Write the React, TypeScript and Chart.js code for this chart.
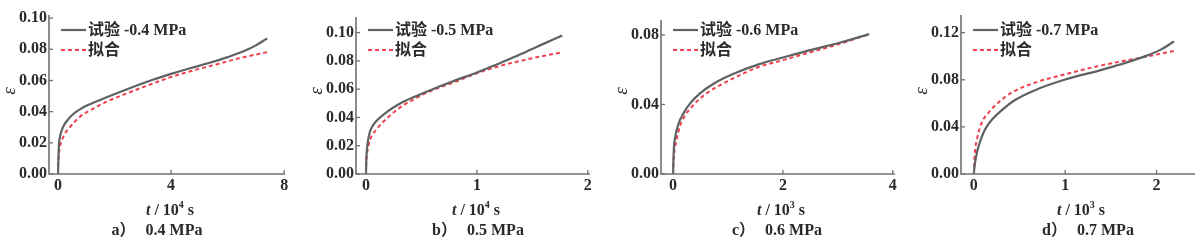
import React, { useEffect, useRef } from "react";
import { Chart, registerables } from "chart.js";

Chart.register(...registerables);

// ---------------- data ----------------
const panelLetters = ["a）", "b）", "c）", "d）"];
const pressureLabels = ["0.4 MPa", "0.5 MPa", "0.6 MPa", "0.7 MPa"];
const testLabels = ["试验 -0.4 MPa", "试验 -0.5 MPa", "试验 -0.6 MPa", "试验 -0.7 MPa"];
const fitLabel = "拟合";
const timeExponents = ["4", "4", "3", "3"];

const xTicksA = [0, 4, 8];
const xTicksB = [0, 1, 2];
const xTicksC = [0, 2, 4];
const xTicksD = [0, 1, 2];
const yTicksA = [0, 0.02, 0.04, 0.06, 0.08, 0.1];
const yTicksB = [0, 0.02, 0.04, 0.06, 0.08, 0.1];
const yTicksC = [0, 0.04, 0.08];
const yTicksD = [0, 0.04, 0.08, 0.12];

// a) 0.4 MPa, t in 10^4 s
const testA_t = [0, 0.01, 0.03, 0.07, 0.13, 0.2, 0.31, 0.54, 0.8, 1.13, 1.72, 2.43, 3.2, 4.0, 4.7, 5.4, 6.0, 6.6, 7.0, 7.4];
const testA_e = [0, 0.008, 0.018, 0.024, 0.028, 0.031, 0.034, 0.0385, 0.0418, 0.0448, 0.0493, 0.0543, 0.0595, 0.0642, 0.068, 0.0715, 0.075, 0.079, 0.0825, 0.087];
const fitA_t = [0, 0.005, 0.02, 0.07, 0.19, 0.42, 0.78, 1.25, 1.72, 2.43, 3.2, 4.0, 4.8, 5.6, 6.4, 7.4];
const fitA_e = [0, 0.006, 0.011, 0.0175, 0.024, 0.03, 0.0368, 0.042, 0.0464, 0.0517, 0.057, 0.0622, 0.0665, 0.0703, 0.0742, 0.0782];

// b) 0.5 MPa, t in 10^4 s
const testB_t = [0, 0.003, 0.008, 0.015, 0.036, 0.06, 0.1, 0.19, 0.3, 0.45, 0.64, 0.8, 1.0, 1.15, 1.3, 1.45, 1.6, 1.77];
const testB_e = [0, 0.01, 0.017, 0.022, 0.03, 0.034, 0.038, 0.044, 0.0495, 0.055, 0.0612, 0.066, 0.0718, 0.0765, 0.0815, 0.0866, 0.092, 0.098];
const fitB_t = [0, 0.003, 0.008, 0.015, 0.036, 0.1, 0.19, 0.3, 0.45, 0.64, 0.8, 1.0, 1.2, 1.45, 1.6, 1.77];
const fitB_e = [0, 0.008, 0.013, 0.017, 0.024, 0.032, 0.0395, 0.0466, 0.0537, 0.0605, 0.065, 0.0712, 0.0762, 0.081, 0.0835, 0.086];

// c) 0.6 MPa, t in 10^3 s
const testC_t = [0, 0.01, 0.04, 0.1, 0.19, 0.31, 0.49, 0.73, 1.09, 1.57, 2.0, 2.46, 3.06, 3.57];
const testC_e = [0, 0.0119, 0.0214, 0.029, 0.0349, 0.0406, 0.0464, 0.0518, 0.0575, 0.0632, 0.067, 0.071, 0.0758, 0.0805];
const fitC_t = [0, 0.01, 0.06, 0.13, 0.22, 0.37, 0.61, 0.97, 1.57, 2.0, 2.46, 3.06, 3.57];
const fitC_e = [0, 0.008, 0.019, 0.028, 0.0337, 0.0397, 0.0464, 0.053, 0.0617, 0.0655, 0.0697, 0.0751, 0.0805];

// d) 0.7 MPa, t in 10^3 s
const testD_t = [0, 0.01, 0.036, 0.073, 0.127, 0.2, 0.31, 0.45, 0.67, 1.0, 1.36, 1.55, 1.72, 1.9, 2.05, 2.19];
const testD_e = [0, 0.0076, 0.0188, 0.0286, 0.0384, 0.0462, 0.0545, 0.0628, 0.0712, 0.0802, 0.0876, 0.0918, 0.0958, 0.1007, 0.1058, 0.1125];
const fitD_t = [0, 0.01, 0.036, 0.09, 0.165, 0.27, 0.415, 0.67, 1.0, 1.36, 1.72, 2.0, 2.19];
const fitD_e = [0, 0.016, 0.03, 0.044, 0.0524, 0.0608, 0.0692, 0.0776, 0.0846, 0.0916, 0.0972, 0.1014, 0.1045];

// ---------------- styling / layout ----------------
const AXIS_COLOR = "#707070";
const TEXT_COLOR = "#2a2a2a";
const TEST_COLOR = "#5e6262";
const FIT_COLOR = "#f0404e";
const FONT_FAMILY = '"Liberation Serif", "Noto Sans CJK SC", serif';
const PAGE_H = 251;
const AXIS_BOTTOM = 174;

const panels = [
  { L: 0, W: 300, axisX: 49, right: 285, top: 15, xMin: -0.32, xMax: 8.03, yMax: 0.102, subX: 157,
    xTicks: xTicksA, yTicks: yTicksA, test: [testA_t, testA_e], fit: [fitA_t, fitA_e] },
  { L: 300, W: 305, axisX: 356, right: 590, top: 17, xMin: -0.09, xMax: 2.02, yMax: 0.111, subX: 478,
    xTicks: xTicksB, yTicks: yTicksB, test: [testB_t, testB_e], fit: [fitB_t, fitB_e] },
  { L: 605, W: 300, axisX: 661, right: 895, top: 20, xMin: -0.22, xMax: 4.04, yMax: 0.0886, subX: 777,
    xTicks: xTicksC, yTicks: yTicksC, test: [testC_t, testC_e], fit: [fitC_t, fitC_e] },
  { L: 905, W: 295, axisX: 961, right: 1195, top: 15, xMin: -0.14, xMax: 2.42, yMax: 0.135, subX: 1088,
    xTicks: xTicksD, yTicks: yTicksD, test: [testD_t, testD_e], fit: [fitD_t, fitD_e] },
];

const toPoints = (t: number[], e: number[]) => t.map((x, i) => ({ x, y: e[i] }));

const decorPlugin = {
  id: "panelDecor",
  afterDraw(chart: any, _args: any, opts: any) {
    const { ctx, chartArea: ca, scales } = chart;
    const xs = scales.x;
    const ys = scales.y;
    ctx.save();
    // axes lines
    ctx.strokeStyle = AXIS_COLOR;
    ctx.lineWidth = 1.6;
    ctx.beginPath();
    ctx.moveTo(ca.left, ca.top);
    ctx.lineTo(ca.left, ca.bottom);
    ctx.lineTo(ca.right, ca.bottom);
    ctx.stroke();
    // inward ticks
    ctx.lineWidth = 1.3;
    xs.ticks.forEach((tk: any) => {
      const px = xs.getPixelForValue(tk.value);
      ctx.beginPath();
      ctx.moveTo(px, ca.bottom);
      ctx.lineTo(px, ca.bottom - 4);
      ctx.stroke();
    });
    ys.ticks.forEach((tk: any) => {
      const py = ys.getPixelForValue(tk.value);
      ctx.beginPath();
      ctx.moveTo(ca.left, py);
      ctx.lineTo(ca.left + 4, py);
      ctx.stroke();
    });

    // legend
    const lx = ca.left + 12;
    const rows = [30, 50];
    chart.data.datasets.forEach((ds: any, i: number) => {
      const y = rows[i];
      ctx.save();
      ctx.strokeStyle = ds.borderColor;
      ctx.lineWidth = ds.borderWidth;
      ctx.setLineDash(ds.borderDash || []);
      ctx.beginPath();
      ctx.moveTo(lx, y);
      ctx.lineTo(lx + 25, y);
      ctx.stroke();
      ctx.restore();
      ctx.fillStyle = TEXT_COLOR;
      ctx.font = `bold 16px ${FONT_FAMILY}`;
      ctx.textAlign = "left";
      ctx.textBaseline = "middle";
      ctx.fillText(ds.label, lx + 27, y + 1);
    });

    // x axis title: t / 10^n s
    const cx = (ca.left + ca.right) / 2 + 3;
    const ty = 211;
    const parts = [
      { s: "t", f: `italic bold 16px ${FONT_FAMILY}`, dy: 0 },
      { s: " / 10", f: `bold 16px ${FONT_FAMILY}`, dy: 0 },
      { s: opts.exponent, f: `bold 10px ${FONT_FAMILY}`, dy: -6 },
      { s: " s", f: `bold 16px ${FONT_FAMILY}`, dy: 0 },
    ];
    let total = 0;
    parts.forEach((p) => {
      ctx.font = p.f;
      total += ctx.measureText(p.s).width;
    });
    let x = cx - total / 2;
    ctx.fillStyle = TEXT_COLOR;
    ctx.textAlign = "left";
    ctx.textBaseline = "middle";
    parts.forEach((p) => {
      ctx.font = p.f;
      ctx.fillText(p.s, x, ty + p.dy);
      x += ctx.measureText(p.s).width;
    });

    // subtitle
    ctx.font = `bold 16px ${FONT_FAMILY}`;
    const w1 = ctx.measureText(opts.letter).width;
    const w2 = ctx.measureText(opts.pressure).width;
    const gap = 10;
    const sx = opts.subX - (w1 + gap + w2) / 2;
    ctx.fillText(opts.letter, sx, 231);
    ctx.fillText(opts.pressure, sx + w1 + gap, 231);

    // y axis title
    ctx.save();
    ctx.translate(ca.left - 39, 91);
    ctx.rotate(-Math.PI / 2);
    ctx.font = `italic 19px ${FONT_FAMILY}`;
    ctx.textAlign = "center";
    ctx.textBaseline = "middle";
    ctx.fillText("ε", 0, 0);
    ctx.restore();

    ctx.restore();
  },
};

function Panel({ idx }: { idx: number }) {
  const ref = useRef<HTMLCanvasElement>(null);
  const p = panels[idx];
  useEffect(() => {
    if (!ref.current) return;
    const chart = new Chart(ref.current, {
      type: "line",
      data: {
        datasets: [
          {
            label: testLabels[idx],
            data: toPoints(p.test[0], p.test[1]),
            borderColor: TEST_COLOR,
            borderWidth: 2.2,
            pointRadius: 0,
            cubicInterpolationMode: "monotone",
            fill: false,
          },
          {
            label: fitLabel,
            data: toPoints(p.fit[0], p.fit[1]),
            borderColor: FIT_COLOR,
            borderWidth: 2,
            borderDash: [4, 3],
            pointRadius: 0,
            cubicInterpolationMode: "monotone",
            fill: false,
          },
        ],
      },
      options: {
        animation: false,
        responsive: false,
        devicePixelRatio: 1,
        layout: {
          padding: {
            left: 0,
            right: p.L + p.W - p.right,
            top: p.top,
            bottom: PAGE_H - AXIS_BOTTOM - 20,
          },
        },
        plugins: {
          legend: { display: false },
          tooltip: { enabled: false },
          panelDecor: {
            exponent: timeExponents[idx],
            letter: panelLetters[idx],
            pressure: pressureLabels[idx],
            subX: p.subX - p.L,
          },
        } as any,
        scales: {
          x: {
            type: "linear",
            min: p.xMin,
            max: p.xMax,
            grid: { display: false, drawTicks: false, tickLength: 0 },
            border: { display: false },
            afterFit: (s: any) => {
              s.height = 20;
            },
            afterBuildTicks: (s: any) => {
              s.ticks = p.xTicks.map((v) => ({ value: v }));
            },
            ticks: {
              padding: 2,
              maxRotation: 0,
              autoSkip: false,
              color: TEXT_COLOR,
              font: { family: FONT_FAMILY, size: 16, weight: "bold" },
              callback: (v: any) => String(v),
            },
          },
          y: {
            type: "linear",
            min: 0,
            max: p.yMax,
            grid: { display: false, drawTicks: false, tickLength: 0 },
            border: { display: false },
            afterFit: (s: any) => {
              s.width = p.axisX - p.L;
            },
            afterBuildTicks: (s: any) => {
              s.ticks = p.yTicks.map((v) => ({ value: v }));
            },
            ticks: {
              padding: 2,
              autoSkip: false,
              color: TEXT_COLOR,
              font: { family: FONT_FAMILY, size: 16, weight: "bold" },
              callback: (v: any) => Number(v).toFixed(2),
            },
          },
        },
      } as any,
      plugins: [decorPlugin],
    });
    return () => chart.destroy();
  }, [idx]);
  return (
    <div style={{ position: "absolute", left: p.L, top: 0, width: p.W, height: PAGE_H }}>
      <canvas ref={ref} width={p.W} height={PAGE_H} style={{ width: p.W, height: PAGE_H, display: "block" }} />
    </div>
  );
}

export default function App() {
  return (
    <div style={{ position: "absolute", left: 0, top: 0, width: 1200, height: PAGE_H, background: "#fff" }}>
      {panels.map((_, i) => (
        <Panel key={i} idx={i} />
      ))}
    </div>
  );
}
